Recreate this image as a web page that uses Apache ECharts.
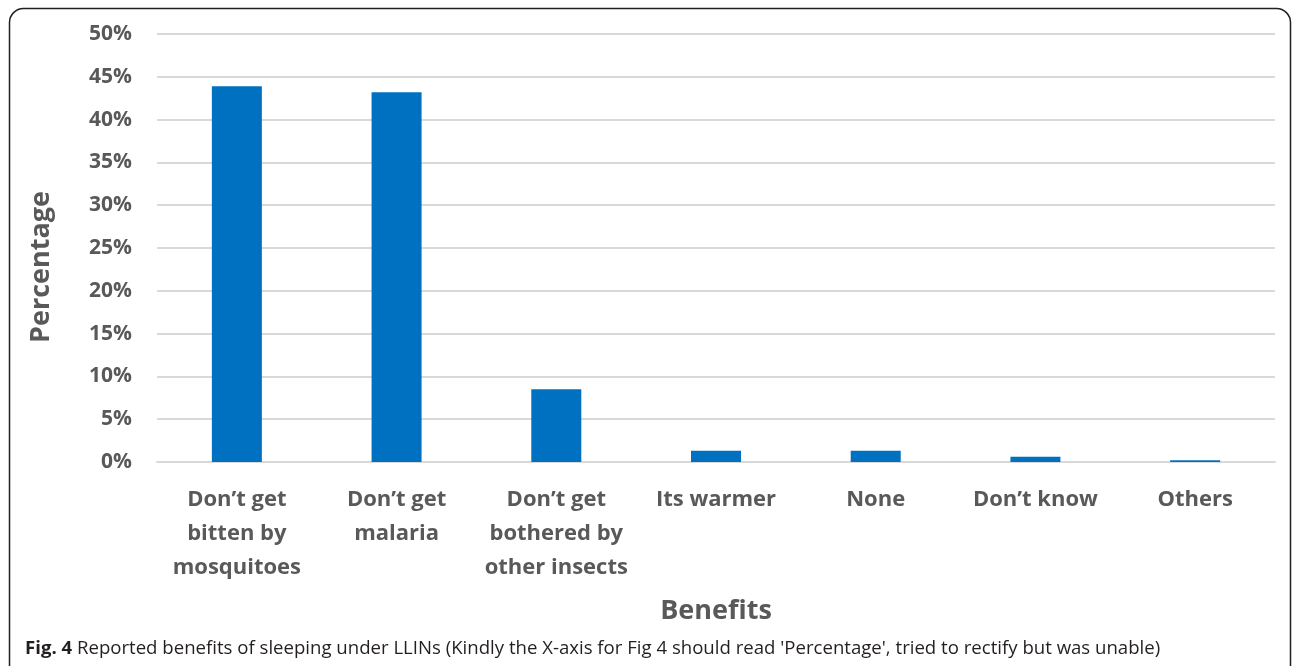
<!DOCTYPE html>
<html lang="en">
<head>
    <meta charset="UTF-8">
    <script src="https://cdn.jsdelivr.net/npm/echarts@6/dist/echarts.min.js"></script>
    <title>Fig 4</title>
    <style>
        html, body { margin: 0; padding: 0; background: #fff; }
        #chart { width: 1292px; height: 666px; }
    </style>
</head>
<body>
    <div id="chart"></div>
    <script>
        // reported benefits of sleeping under LLINs
        let categories = ['Don\u2019t get\nbitten by\nmosquitoes', 'Don\u2019t get\nmalaria', 'Don\u2019t get\nbothered by\nother insects',
            'Its warmer', 'None', 'Don\u2019t know', 'Others'];
        let values = [43.9, 43.2, 8.5, 1.3, 1.3, 0.6, 0.2];
        let yTicks = [0, 5, 10, 15, 20, 25, 30, 35, 40, 45, 50];

        let grey = '#595959';
        let font = '"Open Sans", sans-serif';

        let option = {
            backgroundColor: '#fff',
            animation: false,
            grid: { left: 157, right: 17, top: 34, bottom: 204 },
            title: {
                left: 25,
                top: 639,
                padding: 0,
                text: '{b|Fig. 4} Reported benefits of sleeping under LLINs (Kindly the X-axis for Fig 4 should read \'Percentage\', tried to rectify but was unable)',
                textStyle: {
                    fontFamily: '"Open Sans", sans-serif',
                    fontSize: 18.6,
                    fontWeight: 'normal',
                    color: '#231f20',
                    rich: {
                        b: { fontFamily: '"Open Sans", sans-serif', fontSize: 18.6, fontWeight: 'bold', color: '#231f20' }
                    }
                }
            },
            graphic: [{
                type: 'rect',
                shape: { x: 9.5, y: 8.5, width: 1281, height: 672, r: 14 },
                style: { fill: 'none', stroke: '#231f20', lineWidth: 1.5 },
                silent: true
            }],
            xAxis: {
                type: 'category',
                data: categories,
                name: 'Benefits',
                nameLocation: 'middle',
                nameGap: 136,
                nameTextStyle: { fontFamily: font, fontSize: 27, fontWeight: 'bold', color: grey },
                axisLine: { lineStyle: { color: '#d9d9d9', width: 2 } },
                axisTick: { show: false },
                axisLabel: {
                    interval: 0,
                    margin: 21,
                    fontFamily: font,
                    fontSize: 22,
                    fontWeight: 'bold',
                    color: grey,
                    lineHeight: 34
                }
            },
            yAxis: {
                type: 'value',
                min: 0,
                max: 50,
                interval: 5,
                name: 'Percentage',
                nameLocation: 'middle',
                nameGap: 102,
                nameTextStyle: { fontFamily: font, fontSize: 27, fontWeight: 'bold', color: grey, padding: [0, 38, 0, 0] },
                axisLine: { show: false },
                axisTick: { show: false },
                splitLine: { lineStyle: { color: '#d9d9d9', width: 2 } },
                axisLabel: {
                    margin: 25,
                    fontFamily: font,
                    fontSize: 21,
                    fontWeight: 'bold',
                    color: grey,
                    formatter: function (v) {
                        return yTicks.includes(v) ? v + '%' : '';
                    }
                }
            },
            series: [{
                type: 'bar',
                data: values,
                barWidth: 50,
                itemStyle: { color: '#0070c0' }
            }]
        };

        let myChart = echarts.init(document.getElementById('chart'));
        myChart.setOption(option);
    </script>
</body>
</html>
